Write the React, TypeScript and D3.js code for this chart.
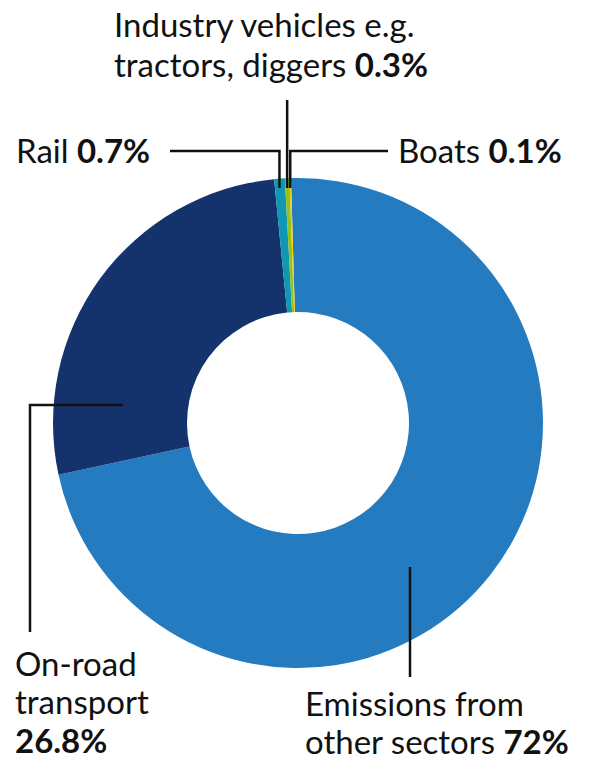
import React from 'react';
import * as d3 from 'd3';

// shares of emissions, clockwise from 12 o'clock
const sectors = ['Emissions from other sectors', 'On-road transport', 'Rail', 'Industry vehicles', 'Boats'];
const shares = [72, 26.8, 0.7, 0.3, 0.1];
const sliceColors = ['#257bc0', '#14336c', '#0f97b4', '#95c11f', '#fcc700'];
const shareLabels = ['72%', '26.8%', '0.7%', '0.3%', '0.1%'];

const W = 597;
const H = 762;
const cx = 298;
const cy = 423;
const outerR = 245;
const innerR = 111;
const rot = -Math.asin(7 / outerR);

const font = 'Lato, "Open Sans", sans-serif';

const App = () => {
  const pie = d3.pie<number>().sort(null).startAngle(rot).endAngle(rot + 2 * Math.PI);
  const arcs = pie(shares);
  const arc = d3.arc<d3.PieArcDatum<number>>().innerRadius(innerR).outerRadius(outerR);

  // x position of a slice's middle, on the outer rim
  const rimX = (i: number) => {
    const a = (arcs[i].startAngle + arcs[i].endAngle) / 2;
    return cx + outerR * Math.sin(a);
  };
  const tickBottom = cy - outerR + 10;

  const railX = rimX(2);
  const indX = rimX(3);
  const boatX = rimX(4);

  const line = { stroke: '#111', strokeWidth: 2.5, fill: 'none' };
  const txt = { fontFamily: font, fontSize: 33, fill: '#111' };

  return (
    <svg width={W} height={H} style={{ position: 'absolute', left: 0, top: 0 }}>
      <g transform={`translate(${cx},${cy})`}>
        {arcs.map((a, i) => (
          <path key={sectors[i]} d={arc(a) || ''} fill={sliceColors[i]} />
        ))}
      </g>

      {/* leader lines */}
      <path d={`M170,151 H${railX} V${tickBottom}`} {...line} />
      <path d={`M${indX},100 V${tickBottom}`} {...line} />
      <path d={`M388,151 H${boatX} V${tickBottom}`} {...line} />
      <path d={`M123,405 H30 V632`} {...line} />
      <path d={`M410,567 V677`} {...line} />

      {/* labels */}
      <text {...txt} x={114} y={37}>Industry vehicles e.g.</text>
      <text {...txt} x={114} y={77}>
        tractors, diggers <tspan fontWeight="bold">{shareLabels[3]}</tspan>
      </text>
      <text {...txt} x={16} y={163}>
        Rail <tspan fontWeight="bold">{shareLabels[2]}</tspan>
      </text>
      <text {...txt} x={398} y={163}>
        Boats <tspan fontWeight="bold">{shareLabels[4]}</tspan>
      </text>
      <text {...txt} x={15} y={676}>On-road</text>
      <text {...txt} x={15} y={714}>transport</text>
      <text {...txt} x={15} y={753} fontWeight="bold">{shareLabels[1]}</text>
      <text {...txt} x={305} y={716}>Emissions from</text>
      <text {...txt} x={305} y={754}>
        other sectors <tspan fontWeight="bold">{shareLabels[0]}</tspan>
      </text>
    </svg>
  );
};

export default App;
